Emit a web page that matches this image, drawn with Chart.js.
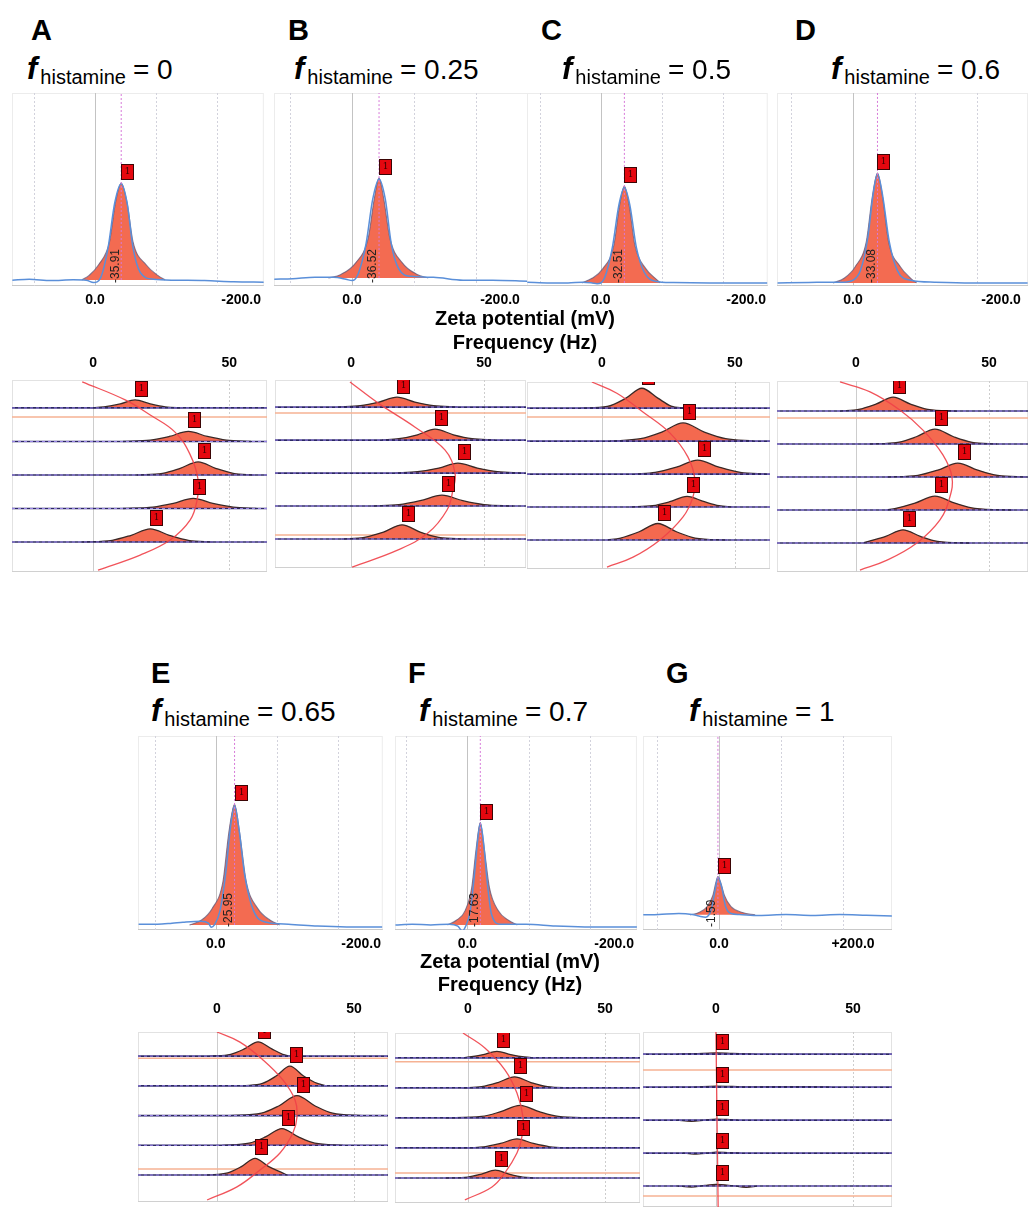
<!DOCTYPE html>
<html>
<head>
<meta charset="utf-8">
<title>Zeta potential and frequency traces vs f histamine</title>
<script src="https://cdn.jsdelivr.net/npm/chart.js@4.4.1/dist/chart.umd.min.js"></script>
<style>
  html, body { margin: 0; padding: 0; background: #fff; }
  body { position: relative; width: 1028px; height: 1207px; overflow: hidden; font-family: "Liberation Sans", Arial, sans-serif; color: #000; }
  canvas { position: absolute; }
  .letter { position: absolute; font-weight: bold; font-size: 29px; line-height: 1; }
  .fh { position: absolute; font-size: 28px; line-height: 1; white-space: nowrap; }
  .fh .f { font-weight: bold; font-style: italic; font-size: 31px; }
  .fh .sub { font-size: 20px; position: relative; top: 5px; margin: 0 7px 0 3px; }
  .title { position: absolute; font-weight: bold; font-size: 20px; line-height: 1; transform: translate(-50%, -50%); white-space: nowrap; }
</style>
</head>
<body>
<script>
// ---- data ----
var panelLetters = ['A', 'B', 'C', 'D', 'E', 'F', 'G'];
var fHistamine = ['0', '0.25', '0.5', '0.6', '0.65', '0.7', '1'];
var zetaPeakText = ['-35.91', '-36.52', '-32.51', '-33.08', '-25.95', '-17.63', '-1.59'];
var zetaPeakMv = [-35.91, -36.52, -32.51, -33.08, -25.95, -17.63, -1.59];
var zetaBase = [0.031, 0.041, 0.016, 0.016, 0.026, 0.026, 0.078];
var zetaTicks = [[0, -200], [0, -200], [0, -200], [0, -200], [0, -200], [0, -200], [0, 200]];
var freqTicks = [0, 50];
var axisTitles = ['Zeta potential (mV)', 'Frequency (Hz)'];

// zeta potential distributions: [mV, intensity]
var zetaFitA = [[18,.031],[8,.055],[-5,.11],[-20,.23],[-28,.43],[-35.9,.534],[-44,.43],[-52,.23],[-70,.11],[-86,.055],[-96,.031]];
var zetaRawA = [[113,.03],[90,.035],[60,.028],[30,.032],[12,.03],[2,.018],[-8,.045],[-18,.2],[-27,.43],[-35.9,.53],[-44,.43],[-52,.2],[-62,.07],[-80,.035],[-110,.03],[-150,.028],[-190,.022],[-231,.02]];
var zetaFitB = [[32,.041],[15,.06],[-5,.12],[-22,.25],[-30,.45],[-36.5,.56],[-43,.45],[-51,.25],[-68,.12],[-88,.06],[-103,.041]];
var zetaRawB = [[105,.035],[80,.038],[50,.045],[25,.045],[8,.035],[0,.028],[-8,.06],[-19,.22],[-28,.45],[-36.5,.555],[-45,.45],[-53,.22],[-63,.09],[-80,.05],[-110,.045],[-150,.03],[-190,.03],[-237,.025]];
var zetaFitC = [[26,.016],[12,.04],[-3,.09],[-18,.21],[-26,.42],[-32.5,.518],[-39,.42],[-47,.21],[-62,.09],[-75,.04],[-82,.016]];
var zetaRawC = [[101,.02],[70,.016],[45,.016],[25,.02],[12,.016],[5,.012],[-5,.04],[-16,.2],[-25,.42],[-32.5,.51],[-40,.42],[-49,.2],[-60,.07],[-75,.025],[-100,.018],[-150,.016],[-190,.016],[-229,.016]];
var zetaFitD = [[27,.016],[12,.04],[-3,.1],[-18,.23],[-26,.46],[-33.1,.585],[-40,.46],[-48,.23],[-64,.1],[-78,.04],[-86,.016]];
var zetaRawD = [[102,.016],[60,.018],[30,.02],[12,.02],[0,.03],[-10,.08],[-20,.25],[-27,.47],[-33.1,.58],[-40,.47],[-49,.23],[-60,.08],[-78,.03],[-110,.02],[-160,.016],[-236,.016]];
var zetaFitE = [[36,.026],[20,.05],[5,.11],[-10,.25],[-18,.5],[-25.95,.648],[-33,.5],[-42,.25],[-58,.11],[-75,.05],[-88,.026]];
var zetaRawE = [[106,.03],[80,.03],[60,.035],[45,.04],[20,.045],[10,.035],[6,.014],[2,.025],[-6,.1],[-14,.3],[-20,.52],[-25.95,.64],[-32,.52],[-40,.28],[-52,.1],[-70,.04],[-100,.03],[-140,.02],[-180,.016],[-229,.016]];
var zetaFitF = [[27,.026],[15,.05],[3,.1],[-6,.22],[-12,.42],[-17.6,.554],[-23,.42],[-30,.22],[-42,.1],[-56,.05],[-68,.026]];
var zetaRawF = [[98,.026],[75,.03],[50,.026],[25,.03],[13,.02],[7,-.004],[2,.022],[-4,.1],[-10,.3],[-14,.46],[-17.6,.55],[-22,.45],[-27,.25],[-33,.08],[-45,.03],[-80,.03],[-120,.02],[-160,.016],[-231,.016]];
var zetaFitG = [[-43,.078],[-30,.09],[-18,.12],[-9,.18],[-5,.24],[-1.6,.275],[3,.24],[8,.18],[18,.12],[35,.09],[54,.078]];
var zetaRawG = [[-113,.078],[-90,.08],[-60,.085],[-40,.08],[-30,.072],[-20,.066],[-12,.1],[-6,.2],[-1.6,.27],[4,.22],[10,.12],[18,.085],[30,.08],[60,.075],[100,.08],[140,.075],[180,.08],[220,.076],[258,.072]];
var zetaFit = [zetaFitA, zetaFitB, zetaFitC, zetaFitD, zetaFitE, zetaFitF, zetaFitG];
var zetaRaw = [zetaRawA, zetaRawB, zetaRawC, zetaRawD, zetaRawE, zetaRawF, zetaRawG];

// frequency spectra, 5 runs per sample, top to bottom: [Hz, height in trace spacings]
var freqA = [
  [[-1,0],[4,.03],[10,.12],[15.4,.24],[21,.12],[26.5,.03],[33,0]],
  [[11,0],[21,.04],[28,.15],[35,.30],[42,.15],[49,.04],[58,0]],
  [[16,0],[25.5,.05],[32,.2],[38.6,.39],[45,.2],[51.5,.05],[59,0]],
  [[11,0],[22,.04],[29.5,.15],[36.8,.30],[44,.15],[51.5,.04],[60,0]],
  [[-4,0],[7,.05],[14,.2],[21,.39],[28,.2],[35,.05],[44,0]]
];
var freqB = [
  [[-5,0],[3.5,.04],[10.5,.15],[17.3,.30],[24,.15],[31,.04],[40,0]],
  [[11.6,0],[18,.04],[25,.16],[31.6,.33],[38.5,.16],[45.5,.04],[54,0]],
  [[16.5,0],[25,.04],[33,.15],[40.2,.30],[47.5,.15],[55,.04],[64,0]],
  [[8,0],[18,.04],[26,.16],[34.2,.33],[42,.16],[50,.04],[61,0]],
  [[-3.4,0],[5,.05],[12.2,.21],[19.2,.43],[26,.21],[33,.05],[43,0]]
];
var freqC = [
  [[-8,0],[2,.05],[9,.3],[15,.6],[21,.3],[26,.06],[31,0]],
  [[3,0],[14.5,.07],[22.5,.27],[30.5,.55],[38.5,.27],[46.5,.07],[57,0]],
  [[12.4,0],[20,.05],[28,.21],[36,.42],[44,.21],[52,.05],[62,0]],
  [[10.5,0],[19,.04],[25.5,.16],[32,.32],[38.5,.16],[44,.04],[49,0]],
  [[2,0],[7,.06],[14,.25],[21,.5],[28,.25],[35,.06],[47,0]]
];
var freqD = [
  [[-6,0],[1,.05],[7.5,.21],[14,.42],[20.5,.21],[27,.05],[38,0]],
  [[5,0],[15.7,.05],[22.7,.22],[29.7,.45],[36.7,.22],[43.7,.05],[53,0]],
  [[11.6,0],[23.3,.05],[30.8,.21],[38.3,.42],[45.8,.21],[53.3,.05],[64,0]],
  [[11.6,0],[15,.05],[22.2,.21],[29.7,.42],[37.2,.21],[44.7,.05],[59,0]],
  [[2.6,0],[4.7,.05],[11.2,.2],[17.7,.40],[24.2,.2],[30.7,.05],[43,0]]
];
var freqE = [
  [[-2.6,0],[5,.06],[10,.24],[15,.48],[20,.24],[24,.06],[26.6,0]],
  [[9.5,0],[16.6,.08],[21.6,.33],[26.6,.66],[31.6,.33],[36.6,.08],[40,0]],
  [[4.7,0],[16.2,.08],[22.7,.33],[29.2,.67],[35.7,.33],[42.2,.08],[53,0]],
  [[2,0],[11.7,.07],[17.7,.28],[23.7,.56],[29.7,.28],[35.7,.07],[46,0]],
  [[-3.6,0],[3.9,.07],[8.9,.28],[13.9,.56],[18.9,.28],[23.9,.07],[25.5,0]]
];
var freqF = [
  [[-2,0],[0.6,.03],[5.6,.11],[10.6,.22],[15.6,.11],[20.6,.03],[24.5,0]],
  [[-2,0],[5,.04],[11,.18],[17,.37],[23,.18],[29,.04],[38,0]],
  [[-8.4,0],[5,.05],[12,.21],[19,.42],[26,.21],[33,.05],[45,0]],
  [[-6,0],[5.9,.04],[11.9,.15],[17.9,.30],[23.9,.15],[29.9,.04],[38,0]],
  [[-8.4,0],[0,.03],[5,.13],[10,.26],[15,.13],[20,.03],[24.5,0]]
];
var freqG = [
  [[-14,0],[-8,.01],[0,.04],[6,.02],[14,0]],
  [[-16,0],[-10,-.01],[0,.03],[12,.005],[34,.015],[42,0]],
  [[-14,0],[-9,-.04],[-4,0],[0,.03],[4,.02],[8,0]],
  [[-12,0],[-8,-.03],[-3,0],[0,.03],[5,.01],[9,0]],
  [[-14,0],[-9,-.03],[-4,.02],[0,.05],[6,.01],[11,-.04],[15,0]]
];
var freqTraces = [freqA, freqB, freqC, freqD, freqE, freqF, freqG];

// peak-position trend curve through the runs: [Hz, trace position]
var trendA = [[-4,5.78],[11.8,5.24],[21,4.79],[30.1,4.28],[35.7,3.6],[38.6,2.85],[38.2,2.25],[35.7,1.66],[28.3,1.06],[17.3,.61],[1.8,.16]];
var trendB = [[-0.4,5.76],[10.2,5.12],[24.1,4.39],[35.3,3.7],[39.1,3.0],[38.3,2.48],[36.1,1.88],[28.9,1.18],[17.7,.67],[0.4,.15]];
var trendC = [[-3.8,5.79],[5.6,5.45],[15.4,4.88],[25.6,4.24],[32.3,3.52],[35,2.82],[34.2,2.3],[30.5,1.7],[21.8,1.0],[11.7,.48],[1.9,.18]];
var trendD = [[-6,5.88],[5.3,5.58],[16.5,5.03],[25.2,4.42],[32.7,3.67],[36.1,3.0],[35.3,2.39],[31.6,1.7],[22.9,1.0],[11.7,.48],[1.5,.18]];
var trendE = [[0,5.81],[8.4,5.47],[16.8,4.87],[24.1,4.19],[28.5,3.52],[29.2,2.95],[27.7,2.41],[23,1.74],[15.7,1.17],[7.3,.6],[-3.6,.16]];
var trendF = [[-1.8,5.83],[6.2,5.33],[13.5,4.6],[17.9,3.83],[20.1,3.03],[19.7,2.37],[17.9,1.83],[13.5,1.17],[8.8,.7],[-1.1,.27]];
var trendG = [[0,5.67],[0.4,3],[0.8,.36]];
var freqTrend = [trendA, trendB, trendC, trendD, trendE, trendF, trendG];

// reference lines (orange) per sample, trace position
var freqRef = [[4.73], [4.82, 1.12], [4.73], [4.79], [4.93, 1.2], [4.87, 1.17], [4.52, 0.70]];

// ---- layout ----
var letterPos = [[31,40],[288,40],[541,40],[795,40],[151,683],[408,683],[666,683]];
var fPos = [[27,79],[294,79],[562,79],[831,79],[151,721],[419,721],[689,721]];
var titlePos = [[525,318,342],[510,961,984]];
var zetaBox = [
  {l:12, t:93, w:255, h:193, min:-231, max:113.5, rev:true, step:83.8},
  {l:274, t:93, w:254, h:193, min:-237.8, max:105.4, rev:true, step:83.8},
  {l:527, t:93, w:245, h:193, min:-229.7, max:101.4, rev:true, step:83.8},
  {l:777, t:93, w:251, h:193, min:-236.5, max:102.7, rev:true, step:83.8},
  {l:138, t:736, w:249, h:194, min:-229.7, max:106.8, rev:true, step:83.8},
  {l:395, t:736, w:245, h:194, min:-231, max:98.6, rev:true, step:83.8},
  {l:643, t:736, w:249, h:194, min:-113.4, max:258.2, rev:false, step:92.5}
];
var freqBox = [
  {l:12, t:380, w:255, h:192, xmin:-29.8, xmax:63.9, ymin:.104, ymax:5.835, pad:8},
  {l:275, t:380, w:251, h:188, xmin:-28.6, xmax:65.8, ymin:.121, ymax:5.82, pad:8},
  {l:527, t:382, w:243, h:187, xmin:-28.2, xmax:63.2, ymin:.121, ymax:5.79, pad:10},
  {l:777, t:381, w:251, h:191, xmin:-29.7, xmax:64.7, ymin:.121, ymax:5.91, pad:9},
  {l:138, t:1032, w:250, h:170, xmin:-28.8, xmax:62.4, ymin:.092, ymax:5.81, pad:14},
  {l:395, t:1033, w:245, h:170, xmin:-26.6, xmax:62.8, ymin:.167, ymax:5.83, pad:15},
  {l:643, t:1032, w:249, h:175, xmin:-26.6, xmax:64.2, ymin:.364, ymax:5.67, pad:14}
];

var FONT = '"Liberation Sans", Arial, sans-serif';
Chart.defaults.elements.point.radius = 0;
Chart.defaults.font.family = FONT;

var decor = {
  id: 'decor',
  beforeDatasetsDraw: function (chart, args, o) {
    var ctx = chart.ctx, a = chart.chartArea, x = chart.scales.x;
    ctx.save();
    ctx.lineWidth = 1;
    ctx.strokeStyle = o.frame;
    ctx.strokeRect(a.left + 0.5, a.top + 0.5, a.width - 1, a.height - 1);
    if (o.floor) {
      ctx.strokeStyle = o.floor;
      ctx.beginPath(); ctx.moveTo(a.left, a.bottom - 0.5); ctx.lineTo(a.right, a.bottom - 0.5); ctx.stroke();
    }
    (o.grid || []).forEach(function (g) {
      var px = Math.round(x.getPixelForValue(g.v)) + 0.5;
      if (px < a.left || px > a.right) return;
      ctx.strokeStyle = g.color;
      ctx.setLineDash(g.dash);
      ctx.beginPath(); ctx.moveTo(px, a.top); ctx.lineTo(px, a.bottom); ctx.stroke();
    });
    ctx.restore();
  },
  afterDatasetsDraw: function (chart, args, o) {
    var ctx = chart.ctx, a = chart.chartArea;
    ctx.save();
    ctx.beginPath(); ctx.rect(a.left, a.top, a.width, a.height); ctx.clip();
    chart.data.datasets.forEach(function (ds, i) {
      if (!ds.marker) return;
      var top = null;
      chart.getDatasetMeta(i).data.forEach(function (p) { if (!top || p.y < top.y) top = p; });
      var bx = Math.round(top.x), by = Math.round(top.y) - 3;
      ctx.fillStyle = '#e5070f';
      ctx.fillRect(bx, by - 16, 13, 16);
      ctx.strokeStyle = '#3b0505'; ctx.lineWidth = 1;
      ctx.strokeRect(bx + 0.5, by - 15.5, 12, 15);
      ctx.fillStyle = '#3a0000';
      ctx.font = '9px "DejaVu Serif", serif';
      ctx.textAlign = 'center'; ctx.textBaseline = 'middle';
      ctx.fillText('1', bx + 6.5, by - 8);
    });
    if (o.peakText) {
      var px = chart.scales.x.getPixelForValue(o.peakValue);
      ctx.translate(px - 6, a.bottom - 3);
      ctx.rotate(-Math.PI / 2);
      ctx.fillStyle = '#222';
      ctx.font = '12px ' + FONT;
      ctx.textAlign = 'left'; ctx.textBaseline = 'middle';
      ctx.fillText(o.peakText, 0, 0);
    }
    ctx.restore();
  }
};

function mk(l, t, w, h) {
  var c = document.createElement('canvas');
  c.width = w; c.height = h;
  c.style.left = l + 'px'; c.style.top = t + 'px';
  c.style.width = w + 'px'; c.style.height = h + 'px';
  document.body.appendChild(c);
  return c;
}
function pts(arr, off) {
  return arr.map(function (p) { return { x: p[0], y: (off || 0) + p[1] }; });
}
var baseOptions = {
  responsive: false, animation: false, devicePixelRatio: 1, events: [],
  layout: { padding: 0, autoPadding: false },
  plugins: { legend: { display: false }, tooltip: { enabled: false } }
};

function zetaChart(i) {
  var b = zetaBox[i], base = zetaBase[i];
  var grid = [{ v: 0, color: '#c3c3c3', dash: [] }];
  for (var v = b.step; v < b.max; v += b.step) grid.push({ v: v, color: '#d2d2dc', dash: [2, 2] });
  for (v = -b.step; v > b.min; v -= b.step) grid.push({ v: v, color: '#d2d2dc', dash: [2, 2] });
  new Chart(mk(b.l, b.t, b.w, b.h + 30), {
    type: 'line',
    data: { datasets: [
      { data: [{ x: zetaPeakMv[i], y: base }, { x: zetaPeakMv[i], y: 1 }], borderColor: '#d77ad9', borderWidth: 1, borderDash: [2, 2], order: 0 },
      { data: pts(zetaRaw[i]), borderColor: '#5a8fd9', borderWidth: 1.5, cubicInterpolationMode: 'monotone', order: 1 },
      { data: pts(zetaFit[i]), borderColor: 'rgba(95,85,120,0.75)', borderWidth: 1.1, backgroundColor: '#f36b51',
        fill: { value: base }, cubicInterpolationMode: 'monotone', order: 2, marker: true }
    ] },
    options: Object.assign({}, baseOptions, {
      plugins: Object.assign({}, baseOptions.plugins, {
        decor: { frame: '#ececec', floor: '#c9c9c9', grid: grid, peakText: zetaPeakText[i], peakValue: zetaPeakMv[i] }
      }),
      scales: {
        x: {
          type: 'linear', position: 'bottom', min: b.min, max: b.max, reverse: b.rev,
          grid: { display: false, drawTicks: false }, border: { display: false },
          afterBuildTicks: function (ax) { ax.ticks = zetaTicks[i].map(function (t) { return { value: t }; }); },
          afterFit: function (ax) { ax.height = 30; },
          ticks: { padding: 6, autoSkip: false, maxRotation: 0, color: '#000', font: { family: FONT, weight: 'bold', size: 14 },
            callback: function (t) { return t === 0 ? '0.0' : (t > 0 ? '+' : '') + t.toFixed(1); } }
        },
        y: { type: 'linear', display: false, min: 0, max: 1 }
      }
    }),
    plugins: [decor]
  });
}

function freqChart(i) {
  var b = freqBox[i], ds = [];
  function edge(y) { return [{ x: b.xmin, y: y }, { x: b.xmax, y: y }]; }
  freqRef[i].forEach(function (y) { ds.push({ data: edge(y), borderColor: '#f6b293', borderWidth: 1.5, order: 6 }); });
  freqTraces[i].forEach(function (tr, k) {
    var base = 5 - k;
    ds.push({ data: pts(tr, base), borderColor: '#3a2826', borderWidth: 1.3, backgroundColor: '#f4694f',
      fill: { value: base }, cubicInterpolationMode: 'monotone', order: 5, marker: true });
    ds.push({ data: edge(base), borderColor: '#2c2866', borderWidth: 1.7, order: 3 });
    ds.push({ data: edge(base), borderColor: '#9c86ea', borderWidth: 1, borderDash: [3, 3], order: 2 });
  });
  ds.push({ data: pts(freqTrend[i]), borderColor: 'rgba(240,64,72,0.9)', borderWidth: 1.3, tension: 0.4, order: 0 });
  new Chart(mk(b.l, b.t - 30, b.w, b.h + 30), {
    type: 'line',
    data: { datasets: ds },
    options: Object.assign({}, baseOptions, {
      plugins: Object.assign({}, baseOptions.plugins, {
        decor: { frame: '#e2e2e2', floor: '#d0d0d0', grid: [{ v: 0, color: '#cdcdcd', dash: [] }, { v: 50, color: '#cdcdcd', dash: [2, 2] }] }
      }),
      scales: {
        x: {
          type: 'linear', position: 'top', min: b.xmin, max: b.xmax,
          grid: { display: false, drawTicks: false }, border: { display: false },
          afterBuildTicks: function (ax) { ax.ticks = freqTicks.map(function (t) { return { value: t }; }); },
          afterFit: function (ax) { ax.height = 30; },
          ticks: { padding: b.pad, autoSkip: false, maxRotation: 0, color: '#000', font: { family: FONT, weight: 'bold', size: 14 } }
        },
        y: { type: 'linear', display: false, min: b.ymin, max: b.ymax }
      }
    }),
    plugins: [decor]
  });
}

function addDiv(cls, html, l, t) {
  var d = document.createElement('div');
  d.className = cls; d.innerHTML = html;
  d.style.left = l + 'px'; d.style.top = t + 'px';
  document.body.appendChild(d);
}

panelLetters.forEach(function (L, i) {
  addDiv('letter', L, letterPos[i][0], letterPos[i][1] - 24.5);
  addDiv('fh', '<span class="f">f</span><span class="sub">histamine</span>= ' + fHistamine[i], fPos[i][0], fPos[i][1] - 26.2);
  zetaChart(i);
  freqChart(i);
});
titlePos.forEach(function (p) {
  addDiv('title', axisTitles[0], p[0], p[1]);
  addDiv('title', axisTitles[1], p[0], p[2]);
});
</script>
</body>
</html>
